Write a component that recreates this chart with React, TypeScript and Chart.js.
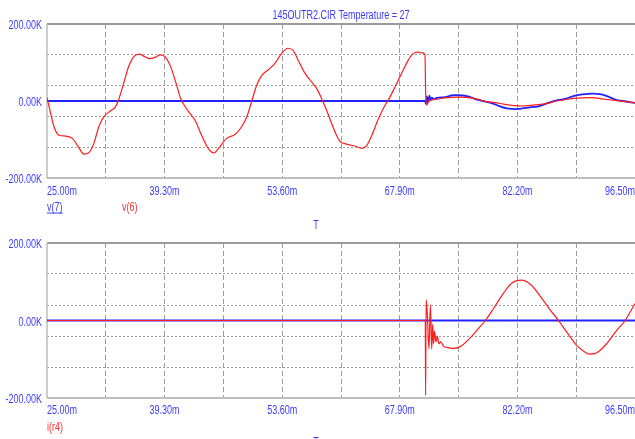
import React, { useEffect, useRef } from "react";
import { Chart, registerables } from "chart.js";

Chart.register(...registerables);

const FONT = "'Liberation Sans', Arial, sans-serif";
const FONT_SIZE = 12;
const NARROW = 0.75;
const RED = "#ff1c1c";
const BLUE = "#2222ff";
const TEXT_BLUE = "#3b3bff";
const TEXT_RED = "#ff3030";
const GRID = "#9c9c9c";

const chartTitle = "145OUTR2.CIR Temperature = 27";
const xAxisName = "T";
const topLegend = ["v(7)", "v(6)"];
const bottomLegend = ["i(r4)"];

const xMin = 25;
const xMax = 96.5;
const xGridValues = [25, 32.15, 39.3, 46.45, 53.6, 60.75, 67.9, 75.05, 82.2, 89.35, 96.5];
const xLabelValues = [25, 39.3, 53.6, 67.9, 82.2, 96.5];
const yMin = -200;
const yMax = 200;
const yGridValues = [-200, -120, -40, 0, 40, 120, 200];
const yLabelValues = [200, 0, -200];

// top panel: v(6) (red)
const v6Times = [
  25.0, 25.45, 25.85, 26.46, 27.27, 28.08, 28.7, 29.5, 30.1, 30.7, 31.3, 31.9, 32.7, 33.35, 33.75,
  34.36, 34.97, 35.58, 36.2, 36.8, 37.5, 38.2, 38.8, 39.4, 40.05, 40.65, 41.26, 41.87, 42.4, 43.0,
  43.8, 44.6, 45.3, 46.0, 46.85, 47.86, 48.67, 49.3, 49.9, 50.5, 51.1, 51.9, 52.7, 53.5, 54.3,
  54.95, 55.56, 56.4, 57.2, 57.8, 58.4, 59.0, 59.6, 60.2, 60.6, 61.4, 62.45, 63.27, 63.9, 64.5,
  65.3, 66.1, 66.7, 67.3, 68.1, 68.9, 69.5, 70.15, 70.6, 70.96, 71.05, 71.17, 71.37, 71.78, 72.2,
  73.4, 75.0, 76.6, 77.85, 78.25, 79.5, 80.7, 82.7, 84.3, 85.7, 86.9, 87.9, 89.1, 91.1, 92.7,
  93.9, 95.1, 96.5,
];
const v6Values = [
  9, -33, -67, -89, -91, -97, -115, -138, -134, -110, -67, -41, -26, -14, 6,
  49, 92, 116, 122, 116, 110, 114, 120, 114, 88, 49, 6, -17, -33, -50,
  -89, -123, -135, -119, -97, -87, -67, -41, 0, 41, 66, 81, 97, 123, 137,
  131, 105, 71, 49, 32, 6, -24, -58, -89, -104, -112, -117, -123, -115, -89,
  -46, -11, 10, 36, 71, 105, 123, 127, 125, 120, 19, -11, -1, 3, 4,
  8, 10, 8, 2, -1, -4, -9, -13, -10, -7, 0, 3, 7, 9, 5,
  2, -1, -5,
];

// top panel: v(7) (blue)
const v7Times = [
  25, 71.0, 71.05, 71.2, 71.35, 71.5, 71.65, 71.8, 72.0, 72.4, 73.4, 74.4, 75.0, 76.2, 76.6,
  77.4, 78.0, 79.0, 80.1, 80.9, 82.1, 83.5, 84.75, 85.96, 87.1, 88.1, 88.9, 90.1, 91.4, 92.4,
  93.4, 94.2, 95.0, 96.5,
];
const v7Values = [
  0, 0, -7, 12, -4, 14, 2, 9, 5, 8, 10, 15, 15, 12, 9,
  3, 0, -5, -14, -19, -21, -17, -14, -5, 2, 6, 12, 17, 19, 17,
  10, 3, 0, -5,
];

// bottom panel: i(r4) (red)
const ir4Times = [
  25, 71.0, 71.04, 71.1, 71.25, 71.45, 71.62, 71.78, 71.9, 72.0, 72.12, 72.3, 72.46, 72.65, 72.9,
  73.2, 73.8, 74.4, 75.2, 76.4, 77.45, 78.3, 79.3, 80.5, 81.5, 82.7, 83.9, 84.9, 86.2, 87.2,
  88.2, 89.4, 90.4, 91.0, 91.8, 93.05, 94.3, 95.3, 96.5,
];
const ir4Values = [
  0, 0, -194, 54, 15, -73, 40, -74, -10, -60, -28, -55, -40, -60, -55,
  -66, -70, -72, -68, -46, -21, 0, 31, 70, 96, 104, 91, 65, 27, 0,
  -30, -64, -81, -87, -84, -60, -25, 0, 44,
];

// bottom panel: zero reference (blue)
const refTimes = [25, 96.5];
const refValues = [0, 0];

const pts = (t: number[], v: number[]) => t.map((x, i) => ({ x, y: v[i] }));

type TextItem = { text: string; x: number; y: number; color: string; align?: "left" | "center" | "right"; underline?: boolean };

function drawNarrow(ctx: CanvasRenderingContext2D, t: TextItem) {
  ctx.save();
  ctx.font = `${FONT_SIZE}px ${FONT}`;
  ctx.textBaseline = "alphabetic";
  ctx.textAlign = "left";
  const w = ctx.measureText(t.text).width * NARROW;
  let x0 = t.x;
  if (t.align === "center") x0 = t.x - w / 2;
  else if (t.align === "right") x0 = t.x - w;
  ctx.translate(x0, t.y);
  ctx.scale(NARROW, 1);
  ctx.fillStyle = t.color;
  ctx.fillText(t.text, 0, 0);
  ctx.restore();
  if (t.underline) {
    ctx.save();
    ctx.strokeStyle = t.color;
    ctx.lineWidth = 1;
    ctx.beginPath();
    ctx.moveTo(x0, t.y + 2.5);
    ctx.lineTo(x0 + w, t.y + 2.5);
    ctx.stroke();
    ctx.restore();
  }
}

function Panel(props: {
  top: number;
  height: number;
  padTop: number;
  axisH: number;
  xLabelDy: number;
  datasets: any[];
  texts: TextItem[];
}) {
  const ref = useRef<HTMLCanvasElement | null>(null);
  useEffect(() => {
    const canvas = ref.current;
    if (!canvas) return;
    const framePlugin = {
      id: "frame",
      beforeDatasetsDraw(chart: any) {
        const { ctx, chartArea: a } = chart;
        ctx.save();
        ctx.strokeStyle = "#9a9a9a";
        ctx.lineWidth = 2;
        ctx.beginPath();
        ctx.moveTo(a.left, a.top);
        ctx.lineTo(a.right, a.top);
        ctx.stroke();
        ctx.strokeStyle = "#bdbdbd";
        ctx.beginPath();
        ctx.moveTo(a.left, a.bottom);
        ctx.lineTo(a.right, a.bottom);
        ctx.stroke();
        ctx.lineWidth = 1.5;
        ctx.beginPath();
        ctx.moveTo(a.left, a.top);
        ctx.lineTo(a.left, a.bottom);
        ctx.stroke();
        ctx.restore();
      },
    };
    const textPlugin = {
      id: "texts",
      afterDraw(chart: any) {
        const ctx = chart.ctx;
        const a = chart.chartArea;
        const xs = chart.scales.x;
        const ys = chart.scales.y;
        for (const v of yLabelValues) {
          drawNarrow(ctx, {
            text: v.toFixed(2) + "K",
            x: a.left - 5,
            y: ys.getPixelForValue(v) + 5.3,
            color: TEXT_BLUE,
            align: "right",
          });
        }
        xLabelValues.forEach((v, i) => {
          drawNarrow(ctx, {
            text: v.toFixed(2) + "m",
            x: xs.getPixelForValue(v),
            y: a.bottom + props.xLabelDy,
            color: TEXT_BLUE,
            align: i === 0 ? "left" : i === xLabelValues.length - 1 ? "right" : "center",
          });
        });
        for (const t of props.texts) drawNarrow(ctx, t);
      },
    };
    const chart = new Chart(canvas, {
      type: "line",
      data: { datasets: props.datasets },
      options: {
        responsive: false,
        animation: false,
        layout: { padding: { top: props.padTop, left: 0, right: 0, bottom: 0 } },
        plugins: {
          legend: { display: false },
          tooltip: { enabled: false },
          title: { display: false },
        },
        elements: { point: { radius: 0 } },
        scales: {
          x: {
            type: "linear",
            min: xMin,
            max: xMax,
            afterFit: (s: any) => {
              s.height = props.axisH;
            },
            afterBuildTicks: (s: any) => {
              s.ticks = xGridValues.map((value) => ({ value }));
            },
            grid: {
              drawTicks: false,
              lineWidth: 1,
              color: (c: any) =>
                c.index === 0 || c.index === xGridValues.length - 1 ? "rgba(0,0,0,0)" : GRID,
            },
            border: { display: false, dash: [5, 3] },
            ticks: { display: false, autoSkip: false, maxRotation: 0 },
          },
          y: {
            type: "linear",
            min: yMin,
            max: yMax,
            afterFit: (s: any) => {
              s.width = 47;
            },
            afterBuildTicks: (s: any) => {
              s.ticks = yGridValues.map((value) => ({ value }));
            },
            grid: {
              drawTicks: false,
              lineWidth: 1,
              color: (c: any) => {
                const v = c.tick ? c.tick.value : 0;
                return v === 0 || v === yMin || v === yMax ? "rgba(0,0,0,0)" : GRID;
              },
            },
            border: { display: false, dash: [2, 2] },
            ticks: { display: false, autoSkip: false },
          },
        },
      },
      plugins: [framePlugin, textPlugin],
    } as any);
    return () => chart.destroy();
  }, []);
  return (
    <canvas
      ref={ref}
      width={635}
      height={props.height}
      style={{ position: "absolute", left: 0, top: props.top, width: 635, height: props.height, display: "block" }}
    />
  );
}

export default function App() {
  const topDatasets = [
    {
      label: "v(6)",
      data: pts(v6Times, v6Values),
      borderColor: RED,
      borderWidth: 1.2,
      cubicInterpolationMode: "monotone",
      pointRadius: 0,
    },
    {
      label: "v(7)",
      data: pts(v7Times, v7Values),
      borderColor: BLUE,
      borderWidth: 1.8,
      cubicInterpolationMode: "monotone",
      pointRadius: 0,
    },
  ];
  const bottomDatasets = [
    {
      label: "i(r4)",
      data: pts(ir4Times, ir4Values),
      borderColor: RED,
      borderWidth: 1.2,
      cubicInterpolationMode: "monotone",
      pointRadius: 0,
    },
    {
      label: "zero",
      data: pts(refTimes, refValues),
      borderColor: BLUE,
      borderWidth: 1.8,
      pointRadius: 0,
    },
  ];
  const topTexts: TextItem[] = [
    { text: chartTitle, x: 341, y: 19, color: TEXT_BLUE, align: "center" },
    { text: topLegend[0], x: 47, y: 210.5, color: TEXT_BLUE, underline: true },
    { text: topLegend[1], x: 122, y: 210.5, color: TEXT_RED },
  ];
  const bottomTexts: TextItem[] = [
    { text: xAxisName, x: 316, y: 13.5, color: TEXT_BLUE, align: "center" },
    { text: bottomLegend[0], x: 47, y: 215.8, color: TEXT_RED },
    { text: xAxisName, x: 316, y: 231.3, color: TEXT_BLUE, align: "center" },
  ];
  return (
    <div style={{ position: "fixed", left: 0, top: 0, width: 635, height: 439, background: "#fff" }}>
      <Panel top={0} height={215} padTop={24} axisH={37} xLabelDy={17.4} datasets={topDatasets} texts={topTexts} />
      <Panel top={215} height={224} padTop={28} axisH={41} xLabelDy={15.8} datasets={bottomDatasets} texts={bottomTexts} />
    </div>
  );
}
